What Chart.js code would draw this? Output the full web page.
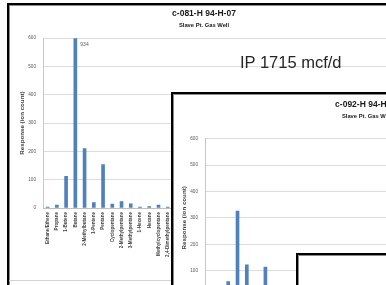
<!DOCTYPE html>
<html lang="en">
<head>
<meta charset="UTF-8">
<title>Slave Pt. gas wells</title>
<script src="https://cdn.jsdelivr.net/npm/chart.js@4.4.0/dist/chart.umd.min.js"></script>
<style>
    body { margin: 0; width: 386px; height: 285px; overflow: hidden; background: #fff; position: relative; }
    .frame { position: absolute; background: #fff; border: 2px solid #000; box-shadow: inset 0 0 0 1px #8a8a8a; overflow: hidden; }
    .frame canvas { position: absolute; top: 0; }
    #f1 { left: 7px; top: 3px; width: 400px; height: 300px; z-index: 1; }
    #f2 { left: 171px; top: 92px; width: 400px; height: 300px; z-index: 3; }
    #f3 { left: 296px; top: 253px; width: 200px; height: 100px; z-index: 4; }
    #ip { position: absolute; left: 240px; top: 54px; z-index: 2; font: 16.5px/16.5px "Liberation Sans", Arial, sans-serif; color: #262626; white-space: nowrap; }
    #base { position: absolute; left: 0; top: 275px; width: 400px; height: 1px; background: #d4d4d4; }
</style>
</head>
<body>
<div class="frame" id="f1">
    <canvas id="c1" width="390" height="300" style="left:0"></canvas>
    <div id="base"></div>
</div>
<div id="ip">IP 1715 mcf/d</div>
<div class="frame" id="f2">
    <canvas id="c2" width="392" height="300" style="left:-2px"></canvas>
</div>
<div class="frame" id="f3"></div>
<script>
// compounds on the x axis (only the first 14 can be read, the rest sit under the other charts)
const categories = ["Ethane/Ethene", "Propane", "1-Butene", "Butane", "2-Methylbutane", "1-Pentene",
    "Pentane", "Cyclopentane", "2-Methylpentane", "3-Methylpentane", "1-Hexene", "Hexane",
    "Methylcyclopentane", "2,4-Dimethylpentane", "Benzene", "Cyclohexane", "2-Methylhexane",
    "2,3-Dimethylpentane", "3-Methylhexane", "1-Heptene", "Heptane", "Methylcyclohexane",
    "2,5-Dimethylhexane", "Toluene", "2-Methylheptane", "3-Methylheptane", "1-Octene", "Octane",
    "Ethylbenzene", "m/p-Xylene", "Styrene", "o-Xylene", "1-Nonene", "Nonane", "Propylbenzene",
    "1,2,4-Trimethylbenzene", "Decane", "Undecane"];

// c-081-H 94-H-07, null = hidden behind the next chart
const c081 = [3, 10, 112, 934, 210, 19, 153, 14, 23, 15, 3, 5, 10, 3,
    null, null, null, null, null, null, null, null, null, null, null, null,
    null, null, null, null, null, null, null, null, null, null, null, null];

// c-092-H 94-H-07, only the tall bars show
const c092 = [null, null, 58, 326, 122, null, 113, null, null, null, null, null, null, null,
    null, null, null, null, null, null, null, null, null, null, null, null,
    null, null, null, null, null, null, null, null, null, null, null, null];

const yMin = 0, yMax = 600, yStep = 100;
const subtitle = 'Slave Pt. Gas Well';
const axisTitle = 'Response (ion count)';

const FONT = '"Liberation Sans", Arial, sans-serif';

// Excel writes the value next to a bar that runs past the top of the axis
const overLabel = {
    id: 'overLabel',
    afterDatasetsDraw(chart) {
        const { ctx, chartArea, scales } = chart;
        const meta = chart.getDatasetMeta(0);
        chart.data.datasets[0].data.forEach((v, i) => {
            if (v == null || v <= scales.y.max) return;
            const bar = meta.data[i];
            ctx.save();
            ctx.font = '5px ' + FONT;
            ctx.fillStyle = '#595959';
            ctx.textBaseline = 'middle';
            ctx.fillText(v, bar.x + 5, chartArea.top + 6);
            ctx.restore();
        });
    }
};

function wellChart(id, title, values, pad) {
    const ctx = document.getElementById(id).getContext('2d');
    return new Chart(ctx, {
        type: 'bar',
        data: {
            labels: categories,
            datasets: [{
                data: values,
                backgroundColor: '#4f81bd',
                barThickness: 3
            }]
        },
        plugins: [overLabel],
        options: {
            responsive: false,
            animation: false,
            layout: { padding: 0 },
            plugins: {
                legend: { display: false },
                tooltip: { enabled: false },
                title: {
                    display: true, text: title, color: '#1a1a1a',
                    font: { family: FONT, size: 8.5, weight: 'bold' },
                    padding: { top: pad[0], bottom: 1 }
                },
                subtitle: {
                    display: true, text: subtitle, color: '#1a1a1a',
                    font: { family: FONT, size: 5.8, weight: 'bold' },
                    padding: { top: pad[1], bottom: pad[2] }
                }
            },
            scales: {
                x: {
                    grid: { display: false, drawTicks: false },
                    border: { color: '#bfbfbf' },
                    ticks: {
                        autoSkip: false, maxRotation: 90, minRotation: 90, padding: 4,
                        color: '#404040', font: { family: FONT, size: 4.6, weight: 'bold' }
                    },
                    afterFit: s => { s.height = 97; }
                },
                y: {
                    min: yMin, max: yMax,
                    grid: { color: '#dcdcdc', drawTicks: false },
                    border: { color: '#c8c8c8' },
                    ticks: {
                        stepSize: yStep, padding: 7,
                        color: '#595959', font: { family: FONT, size: 4.7 }
                    },
                    title: {
                        display: true, text: axisTitle, color: '#404040',
                        font: { family: FONT, size: 6.2, weight: 'bold' },
                        padding: { top: 10, bottom: 2 }
                    },
                    afterFit: s => { s.width = 34; }
                }
            }
        }
    });
}

wellChart('c1', 'c-081-H 94-H-07', c081, [3.5, 2.5, 9]);
wellChart('c2', 'c-092-H 94-H-07', c092, [5.5, 2, 19]);
</script>
</body>
</html>
